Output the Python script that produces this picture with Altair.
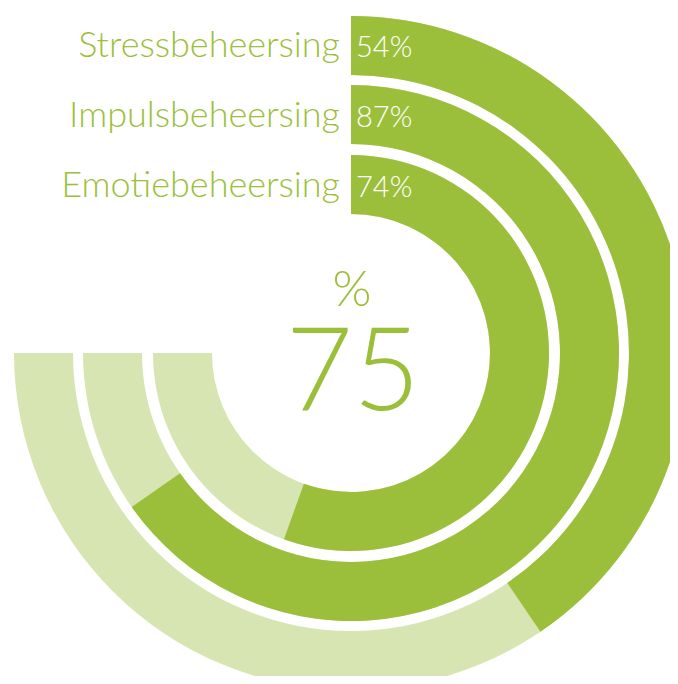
import math
import altair as alt
import pandas as pd

categories = ["Stressbeheersing", "Impulsbeheersing", "Emotiebeheersing"]
values = [54, 87, 74]
center_value = 75
center_unit = "%"

DARK = "#9cbf3b"
LIGHT = "#d7e5b2"
FONT = "Lato"

df = pd.DataFrame({
    "category": categories,
    "value": values,
    "start": [0] * len(categories),
    "full": [100] * len(categories),
})
df["label"] = [f"{v}%" for v in values]

CX, CY = 343, 345
outer_radii = [337, 268, 198]
thickness = 59

theta_scale = alt.Scale(domain=[0, 100], range=[0, 3 * math.pi / 2])

base = alt.Chart(df)
layers = []
for cat, r in zip(categories, outer_radii):
    sub = base.transform_filter(alt.datum.category == cat)
    bg = sub.mark_arc(radius=r, radius2=r - thickness, color=LIGHT).encode(
        theta=alt.Theta("start:Q", scale=theta_scale, stack=False),
        theta2="full:Q",
        x=alt.value(CX),
        y=alt.value(CY),
    )
    fg = sub.mark_arc(radius=r, radius2=r - thickness, color=DARK).encode(
        theta=alt.Theta("start:Q", scale=theta_scale, stack=False),
        theta2="value:Q",
        x=alt.value(CX),
        y=alt.value(CY),
    )
    layers += [bg, fg]

label_y = alt.Y("category:N", scale=alt.Scale(type="point", domain=categories,
                                            range=[49, 189], padding=0), axis=None)

names = base.mark_text(align="right", baseline="alphabetic", font=FONT,
                       fontWeight=300, fontSize=36, color=DARK).encode(
    x=alt.value(332), y=label_y, text="category:N")

pcts = base.mark_text(align="left", baseline="alphabetic", font=FONT,
                      fontWeight=300, fontSize=29, color="white").encode(
    x=alt.value(348), y=label_y, text="label:N")

center_df = pd.DataFrame({"unit": [center_unit], "num": [str(center_value)]})
unit_txt = alt.Chart(center_df).mark_text(align="center", baseline="alphabetic",
                                          font=FONT, fontWeight=300, fontSize=50,
                                          color=DARK).encode(
    x=alt.value(344), y=alt.value(298), text="unit:N")
num_txt = alt.Chart(center_df).mark_text(align="center", baseline="alphabetic",
                                         font=FONT, fontWeight=300, fontSize=116,
                                         color=DARK).encode(
    x=alt.value(345), y=alt.value(402), text="num:N")

chart = alt.layer(*layers, names, pcts, unit_txt, num_txt).properties(
    width=662, height=668, autosize="none", padding=0
).configure_view(strokeWidth=0)

chart.save("out.html", embed_options={"renderer": "svg", "actions": False})
